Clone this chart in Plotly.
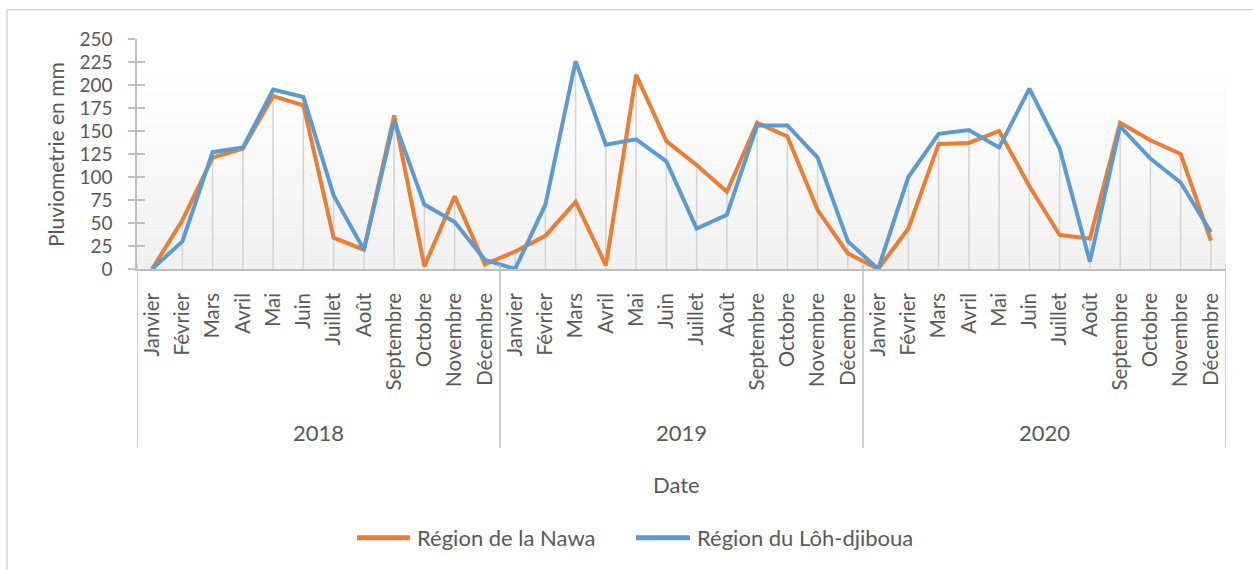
import plotly.graph_objects as go

months = ["Janvier", "Février", "Mars", "Avril", "Mai", "Juin", "Juillet",
          "Août", "Septembre", "Octobre", "Novembre", "Décembre"]
years = ["2018", "2019", "2020"]
series_names = ["Région de la Nawa", "Région du Lôh-djiboua"]

nawa = [0, 53, 121, 131, 188, 178, 34, 21, 167, 3, 79, 5,
        19, 36, 73, 4, 211, 139, 113, 84, 159, 144, 64, 17,
        0, 44, 136, 137, 150, 90, 37, 33, 159, 140, 125, 31]
loh = [0, 30, 127, 132, 195, 187, 80, 21, 161, 70, 51, 10,
       0, 70, 226, 135, 141, 117, 44, 59, 156, 156, 121, 30,
       0, 100, 147, 151, 132, 196, 131, 8, 155, 120, 94, 40]

W, H = 1253, 570
L, R, T, B = 137, 1226, 39.3, 269.3
TXT = "#595959"
FONT = "Lato"
COLORS = ["#ED7D31", "#5B9BD5"]


def px(xp):
    return (xp - L) / (R - L)


def py(yp):
    return (B - yp) / (B - T)


n = len(nawa)
xs = list(range(n))
ticktext = [m for _ in years for m in months]

# drop lines (Excel style) from the highest point down to the axis
dx, dy = [], []
for i in xs:
    dx += [i, i, None]
    dy += [0, max(nawa[i], loh[i]), None]

fig = go.Figure()
fig.add_trace(go.Scatter(x=dx, y=dy, mode="lines", line=dict(color="#d4d4d4", width=1.5),
                         hoverinfo="skip", showlegend=False))
for name, vals, col in zip(series_names, [nawa, loh], COLORS):
    fig.add_trace(go.Scatter(x=xs, y=vals, mode="lines", name=name, showlegend=False,
                             line=dict(color=col, width=4), cliponaxis=False))
fig.add_trace(go.Scatter(x=[None], y=[None], yaxis="y2", showlegend=False, hoverinfo="skip"))

shapes = []
# gradient plot background
nb = 60
top = py(70)
for k in range(nb):
    t = k / nb
    c = int(round(240 + (255 - 240) * t))
    shapes.append(dict(type="rect", xref="x domain", yref="y domain", layer="below",
                       x0=0, x1=1, y0=top * k / nb, y1=top * (k + 1) / nb,
                       fillcolor=f"rgb({c},{c},{c})", line=dict(width=0)))
# year group dividers
for xv in [-0.5, 11.5, 23.5, 35.5]:
    shapes.append(dict(type="line", xref="x", yref="paper", x0=xv, x1=xv,
                       y0=py(265), y1=py(448), line=dict(color="#bfbfbf", width=1.5)))
# chart border (left & top)
shapes.append(dict(type="line", xref="paper", yref="paper", x0=px(7), x1=px(7),
                   y0=py(10), y1=py(575), line=dict(color="#d9d9d9", width=1.5)))
shapes.append(dict(type="line", xref="paper", yref="paper", x0=px(7), x1=px(1260),
                   y0=py(10), y1=py(10), line=dict(color="#d9d9d9", width=1.5)))

annotations = []
for j, yr in enumerate(years):
    annotations.append(dict(x=j * 12 + 5.5, xref="x", y=py(433), yref="paper",
                            text=yr, showarrow=False, font=dict(size=22, color=TXT, family=FONT),
                            xanchor="center", yanchor="middle"))
annotations.append(dict(x=px(676), y=py(485), xref="paper", yref="paper", text="Date",
                        showarrow=False, font=dict(size=22, color=TXT, family=FONT),
                        xanchor="center", yanchor="middle"))
annotations.append(dict(x=px(55), y=0.5, xref="paper", yref="paper", text="Pluviometrie en mm",
                        textangle=-90, showarrow=False, font=dict(size=21, color=TXT, family=FONT),
                        xanchor="center", yanchor="middle"))

# custom legend
leg_items = [(357, 410, 415), (636, 690, 695)]
for (x0, x1, xt), name, col in zip(leg_items, series_names, COLORS):
    shapes.append(dict(type="line", xref="paper", yref="paper", x0=px(x0), x1=px(x1),
                       y0=py(538), y1=py(538), line=dict(color=col, width=5)))
    annotations.append(dict(x=px(xt), y=py(538), xref="paper", yref="paper", text=name,
                            showarrow=False, font=dict(size=22, color=TXT, family=FONT),
                            xanchor="left", yanchor="middle"))

fig.update_layout(
    width=W, height=H,
    margin=dict(l=L, r=W - R, t=T, b=H - B),
    paper_bgcolor="white", plot_bgcolor="white",
    font=dict(family=FONT, color=TXT, size=20),
    showlegend=False,
    xaxis=dict(range=[-0.5, n - 0.5], tickvals=xs, ticktext=ticktext, tickangle=-90,
               showgrid=False, zeroline=False, showline=True, linecolor="#bfbfbf", linewidth=1.5,
               ticks="", ticklabelstandoff=14, tickfont=dict(size=20.5, color=TXT, family=FONT)),
    yaxis=dict(range=[0, 250], tickvals=list(range(0, 251, 25)), showgrid=False, zeroline=False,
               showline=True, linecolor="#bfbfbf", linewidth=1.5, ticks="outside", ticklen=7,
               tickcolor="#bfbfbf", tickwidth=1.5, ticklabelstandoff=12,
               tickfont=dict(size=19, color=TXT, family=FONT)),
    yaxis2=dict(range=[0, 250], tickvals=list(range(0, 251, 25)), overlaying="y", side="left",
                showgrid=False, zeroline=False, showticklabels=False, ticks="inside", ticklen=8,
                tickcolor="#bfbfbf", tickwidth=1.5, showline=False),
    shapes=shapes, annotations=annotations,
)

fig.write_html("out.html", config={"displayModeBar": False},
               post_script="document.body.style.margin='0px';")
